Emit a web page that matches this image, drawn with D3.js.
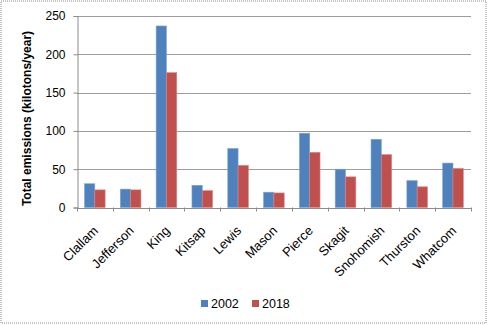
<!DOCTYPE html>
<html>
<head>
<meta charset="utf-8">
<script src="https://cdn.jsdelivr.net/npm/d3@7"></script>
<style>
  html, body { margin: 0; padding: 0; background: #fff; }
  svg { display: block; }
  text { font-family: "Liberation Sans", Arial, sans-serif; fill: #000; }
</style>
</head>
<body>
<svg id="chart" width="488" height="325"></svg>
<script>
// County emissions, kilotons per year
const counties = ["Clallam", "Jefferson", "King", "Kitsap", "Lewis", "Mason",
                  "Pierce", "Skagit", "Snohomish", "Thurston", "Whatcom"];
const values2002 = [31, 24, 237, 29, 77, 20, 97, 50, 89, 35, 58];
const values2018 = [23, 23, 176, 22, 55, 19, 72, 40, 69, 27, 51];
const years = ["2002", "2018"];
const yTicks = [0, 50, 100, 150, 200, 250];
const colors = ["#4F81BD", "#C0504D"];

const svg = d3.select("#chart");
const W = 488, H = 325;

// dotted outer frame
svg.append("rect")
  .attr("x", 1).attr("y", 1).attr("width", W - 3).attr("height", H - 3)
  .attr("fill", "none").attr("stroke", "#8c8c8c")
  .attr("stroke-width", 1).attr("stroke-dasharray", "1,1");

const plot = { left: 77, right: 471, top: 16, bottom: 207.5 };

const x = d3.scaleBand().domain(counties).range([plot.left, plot.right]);
const xs = d3.scaleBand().domain(years).range([7.5, x.bandwidth() - 7.7]);
const y = d3.scaleLinear().domain([0, 250]).range([plot.bottom, plot.top]);

// horizontal gridlines
svg.append("g").selectAll("line")
  .data(yTicks.filter(d => d > 0))
  .join("line")
  .attr("x1", plot.left).attr("x2", plot.right)
  .attr("y1", d => Math.round(y(d)) + 0.5).attr("y2", d => Math.round(y(d)) + 0.5)
  .attr("stroke", "#9d9d9d").attr("stroke-width", 1.2);

// bars
const series = [values2002, values2018];
const groups = svg.append("g").selectAll("g")
  .data(counties)
  .join("g")
  .attr("transform", d => `translate(${x(d)},0)`);

groups.selectAll("rect")
  .data((d, i) => years.map((yr, k) => ({ yr, k, v: series[k][i] })))
  .join("rect")
  .attr("x", d => xs(d.yr))
  .attr("width", xs.bandwidth())
  .attr("y", d => y(d.v))
  .attr("height", d => plot.bottom - y(d.v))
  .attr("fill", d => colors[d.k])
  .attr("stroke", d => d.k === 0 ? "#7fa3d3" : "#d98482")
  .attr("stroke-width", 0.6);

// y axis
const yAxis = svg.append("g")
  .attr("transform", `translate(${plot.left + 0.5},0)`)
  .call(d3.axisLeft(y).tickValues(yTicks).tickSize(4).tickPadding(8));
yAxis.select(".domain").attr("stroke", "#8c8c8c");
yAxis.selectAll(".tick line").attr("stroke", "#8c8c8c");
yAxis.selectAll(".tick text")
  .attr("font-size", 12).attr("font-family", "Liberation Sans, Arial, sans-serif");

// x axis
const xAxis = svg.append("g")
  .attr("transform", `translate(0,${plot.bottom + 0.5})`)
  .call(d3.axisBottom(x).tickSize(0).tickFormat(""));
xAxis.select(".domain").attr("stroke", "#8c8c8c");
xAxis.selectAll(".tick").remove();

// category separator ticks
svg.append("g").selectAll("line")
  .data(counties.map(c => x(c)).concat([plot.right]))
  .join("line")
  .attr("x1", d => Math.round(d) + 0.5).attr("x2", d => Math.round(d) + 0.5)
  .attr("y1", plot.bottom).attr("y2", plot.bottom + 4)
  .attr("stroke", "#8c8c8c");

// rotated category labels
svg.append("g").selectAll("text")
  .data(counties)
  .join("text")
  .attr("transform", d => `translate(${x(d) + x.bandwidth() / 2 + 4},${plot.bottom + 24}) rotate(-45)`)
  .attr("text-anchor", "end")
  .attr("font-size", 13)
  .text(d => d);

// y axis title
svg.append("text")
  .attr("transform", `translate(31,${(25 + 212) / 2}) rotate(-90)`)
  .attr("text-anchor", "middle")
  .attr("font-size", 12)
  .attr("font-weight", "bold")
  .text("Total emissions (kilotons/year)");

// legend
const legend = svg.append("g");
const legendX = [201, 252];
years.forEach((yr, k) => {
  legend.append("rect")
    .attr("x", legendX[k]).attr("y", 300)
    .attr("width", 7).attr("height", 7)
    .attr("fill", colors[k]);
  legend.append("text")
    .attr("x", legendX[k] + 10).attr("y", 307.5)
    .attr("font-size", 12.5)
    .text(yr);
});
</script>
</body>
</html>
